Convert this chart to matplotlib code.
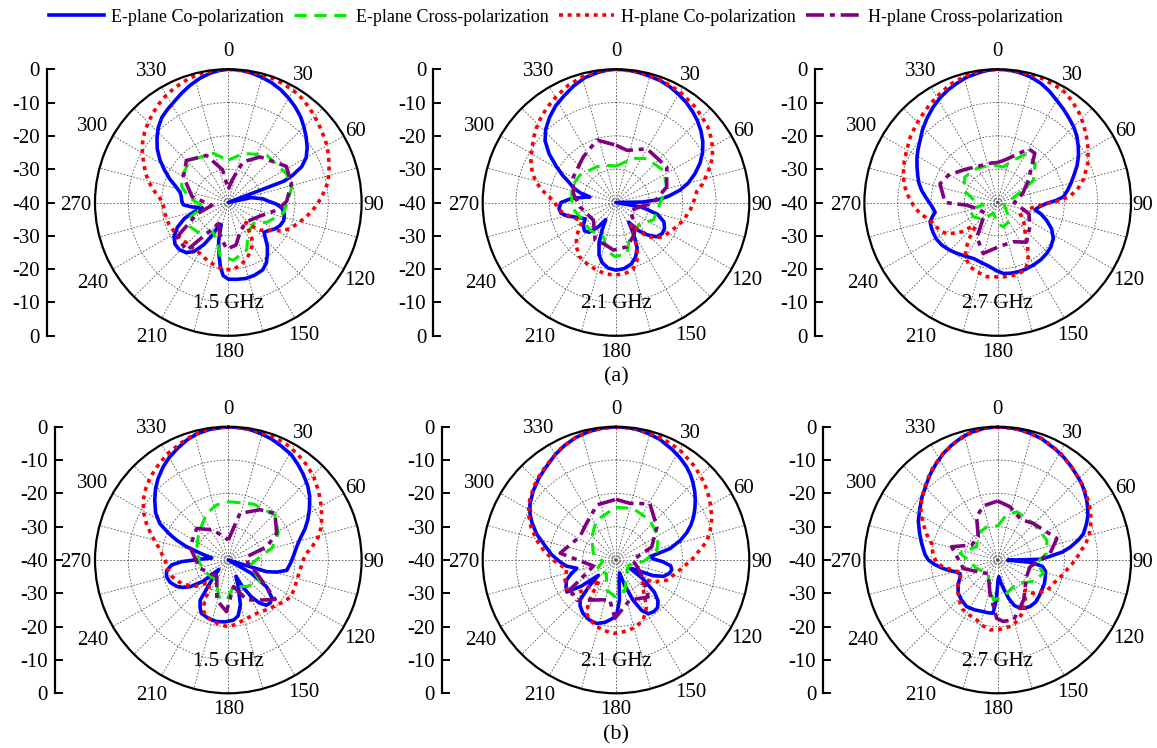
import numpy as np
import matplotlib
matplotlib.use('Agg')
import matplotlib.pyplot as plt
from matplotlib.lines import Line2D

plt.rcParams['font.family'] = ['Liberation Serif', 'DejaVu Serif']

# --- measured radiation patterns: (angle in deg, normalised gain in dB) ---
# row (a)
A15_E_CO = [(0, 0), (5, -0.1), (10, -0.5), (15, -1.1), (20, -1.8), (25, -2.7), (30, -3.8), (35, -5), (40, -6.3),
            (45, -7.9), (50, -9.5), (55, -11.1), (60, -13), (64, -15.5), (67, -19), (69, -22), (71, -40), (78, -33),
            (84, -29.5), (88, -28), (92, -25.5), (96, -23.8), (102, -22.8), (108, -22.5), (114, -23), (120, -24),
            (126, -25.5), (130, -26), (134, -24.5), (138, -22.5), (143, -20.5), (148, -18.5), (153, -17.3),
            (160, -16.8), (167, -16.6), (174, -16.8), (180, -17), (184, -18), (187, -20.5), (190, -24), (194, -28),
            (198, -33), (202, -33), (206, -29), (210, -25.5), (215, -22), (220, -20.4), (226, -19.6), (232, -19.7),
            (238, -20.8), (244, -23), (250, -26), (255, -29.5), (259, -32), (263, -29), (267, -26.5), (272, -26),
            (277, -25.8), (282, -25.2), (287, -23.5), (292, -21), (297, -18.5), (302, -15.8), (307, -13.3),
            (312, -11.2), (317, -9.2), (322, -7.6), (327, -6.6), (332, -5.6), (337, -4.3), (342, -3), (347, -1.8),
            (352, -0.8), (356, -0.3), (360, 0)]
A15_E_X = [(0, -27.3), (17, -24.6), (39, -21.7), (64, -20.5), (76, -20.4), (88, -22), (101, -23.2), (117, -27),
           (130, -30.2), (147, -29), (159, -24.7), (175, -22.6), (189, -24), (197, -28.2), (207, -30), (222, -27.4),
           (238, -26.4), (249, -27.7), (260, -32.4), (278, -27.9), (289, -25.2), (299, -24), (318, -22.9),
           (343, -24.6), (360, -27.3)]
A15_H_CO = [(0, 0), (10, -0.2), (20, -0.5), (25, -0.8), (30, -1.1), (35, -1.7), (40, -2.5), (45, -3.4), (50, -4.3),
            (55, -5.1), (60, -5.8), (65, -6.8), (70, -7.8), (75, -8.8), (80, -10), (85, -11.5), (90, -13),
            (95, -14.5), (100, -16.1), (106, -18), (113, -19.9), (118, -21.8), (122, -24.2), (127, -26),
            (131, -27.4), (135, -30), (139, -32), (143, -30), (147, -27), (152, -25), (156, -23.8), (161, -22.5),
            (168, -21), (176, -19.8), (183, -19.8), (190, -20.4), (200, -21.5), (209, -22.5), (220, -22.6),
            (230, -22.4), (240, -21.6), (250, -21), (260, -20.7), (270, -20.3), (275, -19), (280, -17),
            (285, -15.2), (290, -13.5), (295, -12), (300, -10.2), (305, -8.6), (310, -7.2), (315, -6), (320, -4.9),
            (325, -3.8), (330, -2.8), (335, -2), (340, -1.3), (345, -0.7), (350, -0.3), (355, -0.1), (360, 0)]
A15_H_X = [(0, -36), (10, -33), (20, -27), (35, -23.3), (58, -19.5), (73, -20.2), (89, -22.5), (99, -25.3),
           (115, -30), (136, -32), (155, -31), (170, -27), (182, -26), (195, -30), (205, -33), (221, -21),
           (236, -21.4), (250, -30), (260, -35), (279, -29), (300, -24.5), (315, -22.2), (335, -24.4), (350, -30),
           (360, -36)]

A21_E_CO = [(0, 0), (5, -0.1), (10, -0.4), (15, -0.8), (20, -1.1), (25, -1.7), (30, -2.5), (35, -3.3), (40, -4.3),
            (45, -5.4), (50, -6.7), (55, -8.2), (60, -10), (65, -12.2), (70, -14.8), (75, -17.6), (79, -20.4),
            (83, -24), (86, -27), (89, -32), (91, -40), (100, -32), (106, -27), (112, -24.5), (118, -23.5),
            (124, -23.3), (130, -24), (136, -26.5), (142, -29.5), (147, -33), (151, -29), (155, -25), (160, -22.7),
            (166, -21), (173, -20), (180, -19.7), (187, -20.2), (193, -21.5), (198, -23.5), (203, -27), (207, -31),
            (211, -34), (216, -31), (222, -28), (228, -27.3), (235, -28), (242, -29.5), (248, -28), (254, -25),
            (259, -23.2), (264, -22.8), (270, -23.5), (275, -26.5), (279, -30), (282, -32), (285, -29),
            (289, -26.5), (293, -24.8), (297, -22), (301, -19.2), (306, -15.2), (311, -11.8), (316, -9.6),
            (322, -7.6), (328, -5.8), (334, -4.4), (340, -2.8), (346, -1.4), (352, -0.6), (356, -0.2), (360, 0)]
A21_E_X = [(0, -29.1), (21, -25.8), (35, -23.9), (56, -22.8), (73, -24.1), (91, -26.8), (115, -27.6), (131, -30.4),
           (158, -28.9), (168, -24.4), (181, -23.7), (191, -25.4), (200, -29), (223, -28.6), (248, -28.4),
           (264, -26.6), (290, -25.9), (307, -26.4), (332, -27.8), (351, -28.7), (360, -29.1)]
A21_H_CO = [(0, 0), (10, -0.2), (20, -0.8), (30, -1.6), (40, -2.8), (50, -4.2), (57, -5.7), (65, -8), (72, -11),
            (78, -13.5), (82, -15.5), (88, -16.5), (95, -17.5), (105, -19.1), (115, -21), (126, -22.5), (133, -24.5),
            (138, -26.5), (142, -30), (146, -32), (150, -30), (155, -25), (160, -21.5), (166, -19.2), (173, -18.5),
            (181, -18.2), (189, -18.4), (196, -18.9), (205, -19.6), (214, -20.4), (222, -22.2), (229, -24.3),
            (235, -26.5), (240, -28.2), (246, -27.5), (252, -26), (257, -24.5), (262, -23), (266, -22.2),
            (270, -21.7), (275, -19.8), (280, -17.2), (285, -15), (290, -13.2), (296, -11.6), (302, -10.2),
            (308, -8.6), (313, -7.3), (318, -6.1), (324, -4.8), (331, -3.4), (338, -2), (345, -1), (352, -0.3),
            (360, 0)]
A21_H_X = [(0, -22.8), (12, -24), (30, -21.4), (55, -21.4), (73, -24.1), (91, -28.8), (100, -32.7), (120, -35),
           (135, -32.6), (150, -29), (166, -26.3), (183, -25.7), (195, -27), (209, -27.1), (232, -31.4),
           (263, -29.1), (282, -26.9), (301, -25.1), (324, -23.2), (343, -20.4), (360, -22.8)]

A27_E_CO = [(0, 0), (5, -0.1), (10, -0.5), (15, -1.1), (20, -2), (25, -3.2), (30, -4.6), (35, -5.7), (40, -6.8),
            (45, -7.8), (50, -9), (55, -10.5), (60, -12), (65, -13.7), (70, -15.6), (75, -17.2), (80, -18.7),
            (85, -20.2), (88, -22.5), (91, -25.3), (96, -27.5), (101, -28.6), (105, -26.5), (110, -24.4),
            (116, -22), (123, -20.1), (130, -19.2), (136, -18.8), (143, -18.5), (150, -18.4), (157, -18.3),
            (163, -18.3), (169, -18.4), (175, -18.6), (181, -19.5), (187, -20.6), (195, -21.3), (203, -21.7),
            (211, -21.2), (219, -20.4), (226, -19.6), (233, -18.9), (239, -18.6), (244, -18.6), (249, -18.7),
            (254, -18.9), (258, -20), (261, -21), (265, -20.5), (269, -19.7), (274, -18.4), (279, -16.9),
            (284, -15.6), (289, -14.6), (294, -13.5), (299, -12.3), (304, -11.2), (309, -10.1), (314, -8.6),
            (320, -7), (326, -5.4), (331, -4.2), (336, -3.1), (341, -2.2), (346, -1.3), (352, -0.6), (356, -0.2),
            (360, 0)]
A27_E_X = [(0, -29), (9, -29.2), (20, -26.5), (31, -22.9), (44, -23.8), (58, -27.4), (64, -31.5), (79, -36.2),
           (110, -38), (145, -33.5), (167, -32.5), (180, -33.7), (201, -36.5), (225, -33), (240, -31.5),
           (255, -31.4), (262, -35.6), (275, -33), (290, -29.1), (308, -27.5), (328, -28), (348, -28.6), (360, -29)]
A27_H_CO = [(0, 0), (10, -0.2), (20, -0.5), (30, -1), (36, -2.2), (42, -3.6), (47, -5), (53, -6.7), (60, -8.6),
            (67, -10.7), (75, -13.4), (80, -15.5), (85, -18.2), (88, -21), (92, -26), (100, -30), (112, -33),
            (128, -30), (140, -27), (145, -24.5), (149, -22.2), (153, -20), (158, -18.1), (166, -17.6),
            (176, -17.6), (188, -17.5), (196, -18.2), (203, -19), (209, -20.5), (214, -22.7), (218, -26),
            (222, -29.5), (226, -30), (231, -26), (238, -22.1), (245, -20.6), (252, -19.7), (258, -18), (263, -16.2),
            (268, -14.7), (275, -12.8), (281, -11.4), (287, -10.4), (294, -9.3), (300, -8.5), (307, -7.2),
            (314, -6.1), (320, -5.2), (325, -4.3), (330, -3.4), (338, -1.8), (346, -0.7), (353, -0.2), (360, 0)]
A27_H_X = [(0, -28), (10, -27), (30, -21.4), (37, -21.5), (54, -28.6), (70, -32), (90, -35), (110, -30),
           (127, -27.9), (144, -25.3), (158, -27.3), (175, -27), (196, -24.1), (211, -27.9), (230, -35), (250, -34),
           (265, -30.7), (270, -24.2), (288, -21.8), (299, -23.1), (315, -26), (331, -27.6), (350, -28), (360, -28)]

# row (b)
B15_E_CO = [(0, 0), (5, -0.1), (10, -0.4), (15, -0.9), (20, -1.5), (25, -2.3), (31, -3.2), (36, -4.5), (41, -5.8),
            (47, -7.4), (52, -9), (58, -11.3), (63, -13.2), (68, -15.2), (74, -17.7), (80, -19.3), (87, -20.5),
            (93, -21.3), (100, -22.2), (104, -25), (107, -28), (110, -40), (120, -32), (125, -26), (131, -22.6),
            (136, -22), (140, -22.3), (144, -24), (148, -27), (152, -31), (155, -34.6), (160, -31), (165, -26),
            (170, -23), (175, -21.9), (183, -21.4), (191, -21.2), (199, -21.5), (207, -22.1), (211, -23.5),
            (215, -25.3), (220, -32.5), (225, -36), (230, -30), (235, -26), (239, -24), (243, -22.6), (249, -21.3),
            (255, -20.8), (260, -21.2), (265, -22.9), (268, -26), (272, -32), (277, -35), (281, -33), (285, -30.2),
            (288, -26.5), (291, -23.4), (294, -20.5), (298, -16.7), (303, -14), (309, -11.6), (314, -9.6),
            (319, -7.8), (325, -5.9), (330, -4.5), (336, -3.1), (341, -1.9), (346, -1), (352, -0.4), (360, 0)]
B15_E_X = [(0, -22.5), (24, -21.6), (46, -20.6), (62, -23), (75, -26.5), (84, -30.4), (100, -33), (112, -31.9),
           (124, -28.5), (145, -30.3), (169, -31.9), (182, -28), (195, -28.6), (210, -33), (238, -32.4),
           (263, -31.4), (288, -30), (312, -28), (335, -24.6), (348, -23.1), (360, -22.5)]
B15_H_CO = [(0, 0), (10, -0.2), (20, -0.6), (27, -1.2), (33, -2), (40, -3.1), (46, -4.3), (53, -6), (60, -7.8),
            (66, -9.3), (71, -10.6), (76, -12.3), (81, -14.5), (86, -16.8), (92, -17.8), (99, -18.3), (106, -18.6),
            (113, -18.4), (120, -18.2), (126, -19), (133, -20.2), (141, -21), (149, -21.8), (158, -21.8),
            (166, -21.4), (173, -20.6), (180, -20), (187, -20.4), (194, -21), (200, -21.8), (205, -22.7),
            (209, -25), (213, -29), (218, -31), (223, -30.4), (231, -27.5), (239, -25.4), (246, -23.8),
            (254, -22.3), (262, -21.5), (270, -21), (276, -19.8), (283, -17.9), (288, -15.7), (294, -13.1),
            (299, -11), (305, -8.8), (311, -7.2), (317, -5.8), (323, -4.7), (330, -3.3), (338, -2.1), (344, -1.1),
            (350, -0.5), (355, -0.1), (360, 0)]
B15_H_X = [(0, -34), (14, -25.6), (32, -22.2), (45, -20.2), (61, -23.4), (71, -27.8), (80, -34.4), (100, -34),
           (115, -30.6), (130, -21.6), (139, -24.1), (155, -26.8), (169, -31.9), (182, -24.5), (196, -27.5),
           (215, -34), (254, -31.1), (289, -27.8), (315, -26.6), (333, -29.9), (350, -33), (360, -34)]

B21_E_CO = [(0, 0), (5, -0.1), (10, -0.4), (15, -0.9), (20, -1.5), (27, -2.8), (32, -3.8), (37, -4.9), (41, -6),
            (45, -7.3), (49, -8.7), (53, -10.2), (57, -11.8), (61, -13.4), (65, -15.2), (69, -17.3), (73, -19.8),
            (78, -23.4), (81, -27), (84, -29.5), (88, -29), (92, -26), (96, -23.5), (100, -23), (104, -23.5),
            (109, -24.9), (113, -28), (117, -34), (121, -35), (125, -30), (130, -25), (134, -22.5), (139, -21),
            (144, -20.8), (149, -21.2), (153, -23), (157, -26.9), (161, -32), (165, -36), (171, -34), (175, -28),
            (179, -24), (183, -22.5), (190, -21), (197, -20.1), (204, -20.3), (212, -21.2), (218, -22.5),
            (222, -23.9), (226, -29), (229, -33), (233, -27), (237, -22.4), (242, -23), (248, -24), (253, -26),
            (258, -28), (263, -25), (268, -23.2), (275, -20.5), (282, -18), (288, -15), (294, -12.4), (298, -10.8),
            (303, -9.2), (310, -7.6), (317, -6.2), (323, -5.1), (330, -3.5), (336, -2.3), (342, -1.3), (348, -0.6),
            (354, -0.2), (360, 0)]
B21_E_X = [(0, -24.2), (18, -23.7), (40, -24.3), (61, -25.5), (78, -27.5), (93, -31.8), (115, -36), (141, -34.9),
           (163, -30.6), (182, -29), (197, -30.6), (215, -35), (243, -33.5), (265, -36), (286, -32.9), (314, -29.9),
           (334, -26.7), (360, -24.2)]
B21_H_CO = [(0, 0), (10, -0.2), (20, -0.8), (30, -1.8), (40, -3.3), (49, -4.8), (57, -6.5), (66, -8.5), (74, -10.7),
            (79, -12.5), (83, -14.6), (89, -17), (96, -19.7), (104, -22), (112, -23.7), (119, -26.5), (126, -29.8),
            (133, -29), (140, -27), (144, -25), (147, -23.2), (152, -21.5), (156, -20.2), (162, -19.3),
            (169, -18.6), (176, -18.2), (182, -18), (189, -18.5), (196, -19.2), (203, -20.3), (209, -21.7),
            (213, -25), (216, -29), (219, -32.3), (224, -29), (228, -26), (232, -23.5), (235, -22.6), (242, -23),
            (249, -23.6), (255, -24.5), (260, -25), (265, -23), (270, -21.2), (277, -18.3), (284, -15.5),
            (291, -12.7), (298, -10.2), (305, -8.4), (312, -6.9), (319, -5.5), (327, -4.1), (334, -2.6),
            (342, -1.2), (350, -0.4), (360, 0)]
B21_H_X = [(0, -21.8), (14, -22.5), (31, -20.3), (51, -24.2), (70, -28.6), (90, -35), (110, -33), (126, -29.8),
           (139, -25.3), (161, -27.3), (181, -22.5), (189, -27.9), (202, -27.1), (224, -23.2), (237, -23.5),
           (255, -33), (277, -23.1), (303, -27.1), (320, -26), (341, -22.5), (360, -21.8)]

B27_E_CO = [(0, 0), (5, -0.1), (10, -0.4), (15, -0.8), (20, -1.3), (28, -2.6), (33, -3.4), (38, -4.3), (43, -5.2),
            (48, -6), (52, -6.9), (56, -7.8), (60, -8.8), (64, -9.9), (68, -11.3), (73, -13.1), (76, -15),
            (80, -17.9), (83, -20.5), (86, -24.3), (89, -27), (91, -37), (94, -30), (98, -26.5), (103, -25.3),
            (110, -24.8), (117, -24.3), (124, -24), (131, -23.5), (138, -23), (145, -23), (150, -23.4), (155, -24),
            (160, -25.5), (164, -28), (168, -31), (172, -33), (176, -35), (179, -34), (182, -28), (185, -24),
            (190, -23.9), (196, -23.9), (205, -23.5), (214, -23.2), (222, -23.8), (230, -24.5), (238, -26),
            (245, -27.5), (250, -28), (254, -27), (258, -25), (262, -23), (266, -21), (270, -19.2), (274, -18.2),
            (278, -17.5), (283, -16.5), (289, -15.2), (296, -13.5), (303, -12.1), (310, -10.4), (317, -8.7),
            (322, -7.2), (327, -5.8), (333, -4.1), (338, -2.9), (343, -1.8), (348, -0.9), (354, -0.3), (360, 0)]
B27_E_X = [(0, -29.8), (11, -26.2), (22, -24.4), (44, -24.7), (68, -24.1), (82, -25.2), (95, -28.3), (106, -25.7),
           (121, -27.5), (141, -31), (171, -28.9), (186, -27.9), (194, -30.7), (215, -35), (250, -33), (268, -31.6),
           (280, -28.5), (302, -32.5), (324, -30.1), (342, -29.5), (360, -29.8)]
B27_H_CO = [(0, 0), (10, -0.3), (20, -1.2), (30, -2.7), (38, -4.3), (45, -5.5), (50, -6.3), (56, -7.4), (61, -8.3),
            (65, -9.2), (70, -10.3), (74, -11.4), (79, -13), (83, -14.6), (89, -16.4), (95, -18.2), (104, -20.3),
            (113, -21.9), (121, -22.5), (127, -24), (133, -25.4), (138, -27.8), (142, -27), (146, -25), (150, -24),
            (153, -23.1), (158, -21.8), (164, -20.5), (170, -19.7), (178, -19.2), (186, -18.9), (193, -19.8),
            (199, -20.9), (207, -21.4), (215, -21.8), (222, -23), (230, -24.5), (238, -26), (245, -27.6),
            (250, -28.5), (254, -27.5), (258, -26), (262, -23.8), (267, -21.7), (275, -20.5), (284, -19.6),
            (290, -17.3), (296, -15.1), (302, -12.8), (308, -11), (314, -9.3), (320, -7.6), (326, -5.8),
            (333, -4.1), (340, -2.5), (347, -1.2), (354, -0.3), (360, 0)]
B27_H_X = [(0, -22.3), (13, -23.6), (30, -26), (44, -24.7), (70, -21.1), (83, -24.2), (102, -30.1), (120, -30),
           (147, -25.7), (165, -21.4), (175, -21.5), (181, -22.5), (193, -29.7), (215, -35), (240, -33),
           (256, -29.4), (286, -25.6), (300, -31), (320, -30.9), (334, -25.6), (345, -23.2), (360, -22.3)]

FREQS = ['1.5 GHz', '2.1 GHz', '2.7 GHz']
ROW_A = [[A15_E_CO, A15_E_X, A15_H_CO, A15_H_X],
         [A21_E_CO, A21_E_X, A21_H_CO, A21_H_X],
         [A27_E_CO, A27_E_X, A27_H_CO, A27_H_X]]
ROW_B = [[B15_E_CO, B15_E_X, B15_H_CO, B15_H_X],
         [B21_E_CO, B21_E_X, B21_H_CO, B21_H_X],
         [B27_E_CO, B27_E_X, B27_H_CO, B27_H_X]]
SERIES = ['E-plane Co-polarization', 'E-plane Cross-polarization',
          'H-plane Co-polarization', 'H-plane Cross-polarization']
ANGLE_LABELS = list(range(0, 360, 30))

# --- styles ---
COLORS = ['#0000ff', '#00ee00', '#ff0000', '#800080']
STYLES = ['-', (0, (4, 2.5)), (0, (1.1, 1.3)), (0, (5, 1.6, 1.4, 1.6))]
WIDTHS = [2.6, 2.2, 2.6, 2.6]

# --- layout (pixels of a 1157x748 canvas) ---
W, H = 1157, 748
R = 133.3
CX = [228.3, 616.0, 997.7]
CY = [202.5, 560.0]
AXIS_X = [[46.7, 433.3, 815.0], [55.0, 441.7, 823.3]]
# gap between circle and angle label centre, px
GAP = {0: 20, 30: 16, 60: 14, 90: 12, 120: 18, 150: 17, 180: 14, 210: 20, 240: 23, 270: 19, 300: 24, 330: 21}

fig = plt.figure(figsize=(W / 100, H / 100), dpi=100)


def draw_panel(row, col, curves):
    cx, cy = CX[col], CY[row]
    ax = fig.add_axes([(cx - R) / W, (H - cy - R) / H, 2 * R / W, 2 * R / H], projection='polar')
    ax.set_theta_zero_location('N')
    ax.set_theta_direction(-1)
    for pts, c, ls, lw in zip(curves, COLORS, STYLES, WIDTHS):
        ang = np.deg2rad([p[0] for p in pts])
        val = [p[1] for p in pts]
        ax.plot(ang, val, color=c, linestyle=ls, linewidth=lw)
    ax.set_ylim(-40, 0)
    ax.set_yticks([-30, -20, -10])
    ax.set_yticklabels([])
    ax.set_thetagrids(np.arange(0, 360, 15), labels=[])
    ax.grid(True, color='#555555', linestyle=(0, (2, 2)), linewidth=0.6)
    ax.spines['polar'].set_linewidth(1.6)
    for a in ANGLE_LABELS:
        d = (R + GAP[a]) / (2 * R)
        t = np.deg2rad(a)
        ax.text(0.5 + d * np.sin(t), 0.5 + d * np.cos(t), str(a), transform=ax.transAxes,
                ha='center', va='center_baseline', fontsize=15, clip_on=False)
    ax.text(0.5, 0.12, FREQS[col], transform=ax.transAxes, ha='center', va='center', fontsize=15)

    # linear dB scale on the left
    lx = AXIS_X[row][col]
    la = fig.add_axes([lx / W, (H - cy - R) / H, 0.002, 2 * R / H])
    for s in ['top', 'right', 'bottom']:
        la.spines[s].set_visible(False)
    la.spines['left'].set_linewidth(1.6)
    la.set_xticks([])
    la.set_ylim(-40, 40)
    ticks = np.arange(-40, 41, 10)
    la.set_yticks(ticks)
    la.set_yticklabels([str(abs(t) - 40) if abs(t) != 40 else '0' for t in ticks])
    la.tick_params(axis='y', direction='in', length=6, width=1.4, labelsize=15, pad=5)
    la.patch.set_visible(False)


for col in range(3):
    draw_panel(0, col, ROW_A[col])
    draw_panel(1, col, ROW_B[col])

fig.text(616 / W, 1 - 377 / H, '(a)', ha='center', va='center', fontsize=16)
fig.text(616 / W, 1 - 735 / H, '(b)', ha='center', va='center', fontsize=16)

handles = [Line2D([], [], color=c, linestyle=ls, linewidth=lw) for c, ls, lw in zip(COLORS, STYLES, WIDTHS)]
fig.legend(handles, SERIES, loc='center', bbox_to_anchor=(556 / W, 1 - 17 / H), ncol=4, frameon=False,
           fontsize=13, handlelength=3, handletextpad=0.4, columnspacing=0.6)

fig.savefig('out.png', dpi=100)
